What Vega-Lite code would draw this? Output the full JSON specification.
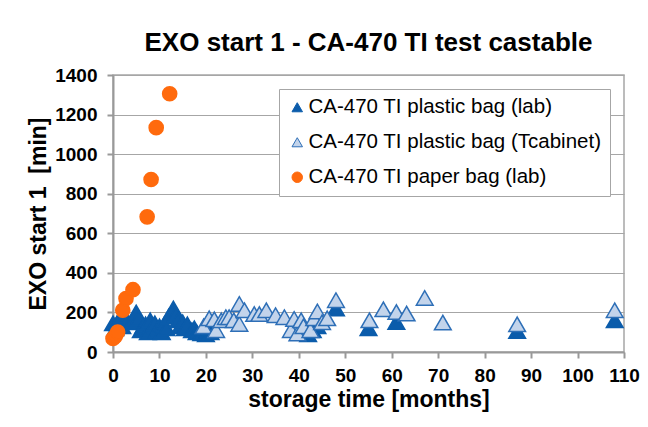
{
  "$schema": "https://vega.github.io/schema/vega-lite/v6.json",
  "width": 511,
  "height": 277,
  "autosize": "none",
  "padding": {"left": 113, "top": 75, "right": 24, "bottom": 75},
  "background": "white",
  "title": {
    "text": "EXO start 1 - CA-470 TI test castable",
    "font": "Liberation Sans",
    "fontSize": 26,
    "fontWeight": "bold",
    "color": "#000000",
    "anchor": "middle",
    "frame": "group",
    "offset": 10
  },
  "config": {
    "view": {"stroke": "#A6A6A6", "strokeWidth": 1.5},
    "axis": {
      "labelFont": "Liberation Sans",
      "titleFont": "Liberation Sans",
      "labelFontWeight": "bold",
      "titleFontWeight": "bold",
      "labelColor": "#000000",
      "titleColor": "#000000",
      "labelFontSize": 19,
      "titleFontSize": 23,
      "domainColor": "#999999",
      "domainWidth": 2,
      "tickColor": "#999999",
      "tickWidth": 2,
      "tickSize": 6,
      "gridColor": "#A6A6A6",
      "gridWidth": 1
    },
    "legend": {
      "orient": "top-right",
      "offset": 14,
      "labelFont": "Liberation Sans",
      "labelFontSize": 20.5,
      "labelColor": "#000000",
      "labelLimit": 400,
      "labelOffset": 1,
      "rowPadding": 14,
      "padding": 8,
      "symbolSize": 110,
      "symbolStrokeWidth": 1,
      "strokeColor": "#A6A6A6",
      "fillColor": "#FFFFFF"
    }
  },
  "data": {
    "values": [
      {"series": "CA-470 TI plastic bag (lab)", "month": 0, "value": 145},
      {"series": "CA-470 TI plastic bag (lab)", "month": 0.5, "value": 120},
      {"series": "CA-470 TI plastic bag (lab)", "month": 1, "value": 150},
      {"series": "CA-470 TI plastic bag (lab)", "month": 1.5, "value": 170},
      {"series": "CA-470 TI plastic bag (lab)", "month": 2, "value": 130},
      {"series": "CA-470 TI plastic bag (lab)", "month": 3, "value": 160},
      {"series": "CA-470 TI plastic bag (lab)", "month": 4, "value": 150},
      {"series": "CA-470 TI plastic bag (lab)", "month": 5, "value": 200},
      {"series": "CA-470 TI plastic bag (lab)", "month": 5.5, "value": 170},
      {"series": "CA-470 TI plastic bag (lab)", "month": 6, "value": 110},
      {"series": "CA-470 TI plastic bag (lab)", "month": 6.5, "value": 130},
      {"series": "CA-470 TI plastic bag (lab)", "month": 7, "value": 140},
      {"series": "CA-470 TI plastic bag (lab)", "month": 7.5, "value": 100},
      {"series": "CA-470 TI plastic bag (lab)", "month": 8, "value": 160},
      {"series": "CA-470 TI plastic bag (lab)", "month": 8.5, "value": 120},
      {"series": "CA-470 TI plastic bag (lab)", "month": 9, "value": 145},
      {"series": "CA-470 TI plastic bag (lab)", "month": 9.5, "value": 110},
      {"series": "CA-470 TI plastic bag (lab)", "month": 10, "value": 130},
      {"series": "CA-470 TI plastic bag (lab)", "month": 10.5, "value": 100},
      {"series": "CA-470 TI plastic bag (lab)", "month": 11, "value": 140},
      {"series": "CA-470 TI plastic bag (lab)", "month": 11.5, "value": 120},
      {"series": "CA-470 TI plastic bag (lab)", "month": 12, "value": 180},
      {"series": "CA-470 TI plastic bag (lab)", "month": 13, "value": 220},
      {"series": "CA-470 TI plastic bag (lab)", "month": 13.5, "value": 190},
      {"series": "CA-470 TI plastic bag (lab)", "month": 14, "value": 160},
      {"series": "CA-470 TI plastic bag (lab)", "month": 14.5, "value": 130},
      {"series": "CA-470 TI plastic bag (lab)", "month": 15, "value": 150},
      {"series": "CA-470 TI plastic bag (lab)", "month": 15.5, "value": 120},
      {"series": "CA-470 TI plastic bag (lab)", "month": 16, "value": 140},
      {"series": "CA-470 TI plastic bag (lab)", "month": 17, "value": 110},
      {"series": "CA-470 TI plastic bag (lab)", "month": 17.5, "value": 120},
      {"series": "CA-470 TI plastic bag (lab)", "month": 18, "value": 100},
      {"series": "CA-470 TI plastic bag (lab)", "month": 19, "value": 95},
      {"series": "CA-470 TI plastic bag (lab)", "month": 20, "value": 90},
      {"series": "CA-470 TI plastic bag (lab)", "month": 20.5, "value": 110},
      {"series": "CA-470 TI plastic bag (lab)", "month": 21, "value": 100},
      {"series": "CA-470 TI plastic bag (lab)", "month": 42, "value": 90},
      {"series": "CA-470 TI plastic bag (lab)", "month": 43, "value": 110},
      {"series": "CA-470 TI plastic bag (lab)", "month": 44, "value": 130},
      {"series": "CA-470 TI plastic bag (lab)", "month": 48, "value": 220},
      {"series": "CA-470 TI plastic bag (lab)", "month": 55, "value": 120},
      {"series": "CA-470 TI plastic bag (lab)", "month": 61, "value": 152},
      {"series": "CA-470 TI plastic bag (lab)", "month": 87, "value": 106},
      {"series": "CA-470 TI plastic bag (lab)", "month": 108, "value": 160},
      {"series": "CA-470 TI plastic bag (Tcabinet)", "month": 19.5, "value": 130},
      {"series": "CA-470 TI plastic bag (Tcabinet)", "month": 20.7, "value": 170},
      {"series": "CA-470 TI plastic bag (Tcabinet)", "month": 21.8, "value": 165},
      {"series": "CA-470 TI plastic bag (Tcabinet)", "month": 22.2, "value": 110},
      {"series": "CA-470 TI plastic bag (Tcabinet)", "month": 23.3, "value": 160},
      {"series": "CA-470 TI plastic bag (Tcabinet)", "month": 24.3, "value": 176},
      {"series": "CA-470 TI plastic bag (Tcabinet)", "month": 25, "value": 176},
      {"series": "CA-470 TI plastic bag (Tcabinet)", "month": 26, "value": 160},
      {"series": "CA-470 TI plastic bag (Tcabinet)", "month": 27.2, "value": 243},
      {"series": "CA-470 TI plastic bag (Tcabinet)", "month": 27.2, "value": 142},
      {"series": "CA-470 TI plastic bag (Tcabinet)", "month": 28.3, "value": 211},
      {"series": "CA-470 TI plastic bag (Tcabinet)", "month": 30.4, "value": 192},
      {"series": "CA-470 TI plastic bag (Tcabinet)", "month": 31.5, "value": 192},
      {"series": "CA-470 TI plastic bag (Tcabinet)", "month": 33, "value": 211},
      {"series": "CA-470 TI plastic bag (Tcabinet)", "month": 35, "value": 186},
      {"series": "CA-470 TI plastic bag (Tcabinet)", "month": 36.9, "value": 176},
      {"series": "CA-470 TI plastic bag (Tcabinet)", "month": 38.3, "value": 110},
      {"series": "CA-470 TI plastic bag (Tcabinet)", "month": 39, "value": 167},
      {"series": "CA-470 TI plastic bag (Tcabinet)", "month": 39.7, "value": 94},
      {"series": "CA-470 TI plastic bag (Tcabinet)", "month": 40.5, "value": 160},
      {"series": "CA-470 TI plastic bag (Tcabinet)", "month": 41, "value": 130},
      {"series": "CA-470 TI plastic bag (Tcabinet)", "month": 42.5, "value": 110},
      {"series": "CA-470 TI plastic bag (Tcabinet)", "month": 43.3, "value": 170},
      {"series": "CA-470 TI plastic bag (Tcabinet)", "month": 44, "value": 205},
      {"series": "CA-470 TI plastic bag (Tcabinet)", "month": 45, "value": 150},
      {"series": "CA-470 TI plastic bag (Tcabinet)", "month": 46.1, "value": 170},
      {"series": "CA-470 TI plastic bag (Tcabinet)", "month": 48, "value": 262},
      {"series": "CA-470 TI plastic bag (Tcabinet)", "month": 55.2, "value": 160},
      {"series": "CA-470 TI plastic bag (Tcabinet)", "month": 58.2, "value": 216},
      {"series": "CA-470 TI plastic bag (Tcabinet)", "month": 61, "value": 202},
      {"series": "CA-470 TI plastic bag (Tcabinet)", "month": 63.2, "value": 194},
      {"series": "CA-470 TI plastic bag (Tcabinet)", "month": 67.1, "value": 273},
      {"series": "CA-470 TI plastic bag (Tcabinet)", "month": 71, "value": 149},
      {"series": "CA-470 TI plastic bag (Tcabinet)", "month": 87, "value": 140},
      {"series": "CA-470 TI plastic bag (Tcabinet)", "month": 108, "value": 211},
      {"series": "CA-470 TI paper bag (lab)", "month": 0, "value": 68},
      {"series": "CA-470 TI paper bag (lab)", "month": 0.5, "value": 80},
      {"series": "CA-470 TI paper bag (lab)", "month": 1, "value": 101},
      {"series": "CA-470 TI paper bag (lab)", "month": 2.1, "value": 211},
      {"series": "CA-470 TI paper bag (lab)", "month": 2.8, "value": 270},
      {"series": "CA-470 TI paper bag (lab)", "month": 4.3, "value": 315},
      {"series": "CA-470 TI paper bag (lab)", "month": 7.35, "value": 683},
      {"series": "CA-470 TI paper bag (lab)", "month": 8.2, "value": 872},
      {"series": "CA-470 TI paper bag (lab)", "month": 9.3, "value": 1134},
      {"series": "CA-470 TI paper bag (lab)", "month": 12.2, "value": 1305}
    ]
  },
  "encoding": {
    "x": {
      "field": "month",
      "type": "quantitative",
      "scale": {"domain": [0, 110], "nice": false},
      "axis": {
        "title": "storage time [months]",
        "values": [0, 10, 20, 30, 40, 50, 60, 70, 80, 90, 100, 110],
        "format": "d",
        "grid": false,
        "labelPadding": 8,
        "titlePadding": 3,
        "labelFlush": false
      }
    },
    "y": {
      "field": "value",
      "type": "quantitative",
      "scale": {"domain": [0, 1400], "nice": false},
      "axis": {
        "title": "EXO start 1\u00a0 [min]",
        "values": [0, 200, 400, 600, 800, 1000, 1200, 1400],
        "format": "d",
        "grid": true,
        "labelPadding": 10,
        "titlePadding": 4
      }
    },
    "shape": {
      "field": "series",
      "type": "nominal",
      "scale": {
        "domain": ["CA-470 TI plastic bag (lab)", "CA-470 TI plastic bag (Tcabinet)", "CA-470 TI paper bag (lab)"],
        "range": ["triangle-up", "triangle-up", "circle"]
      },
      "legend": {"title": null}
    },
    "fill": {
      "field": "series",
      "type": "nominal",
      "scale": {
        "domain": ["CA-470 TI plastic bag (lab)", "CA-470 TI plastic bag (Tcabinet)", "CA-470 TI paper bag (lab)"],
        "range": ["#0B5CAB", "#C3D4EB", "#FF6A0D"]
      },
      "legend": {"title": null}
    },
    "stroke": {
      "field": "series",
      "type": "nominal",
      "scale": {
        "domain": ["CA-470 TI plastic bag (lab)", "CA-470 TI plastic bag (Tcabinet)", "CA-470 TI paper bag (lab)"],
        "range": ["#0B5CAB", "#2E6FB7", "#FF6A0D"]
      },
      "legend": {"title": null}
    }
  },
  "layer": [
    {
      "transform": [{"filter": "datum.series !== 'CA-470 TI paper bag (lab)'"}],
      "mark": {"type": "point", "filled": true, "opacity": 1, "strokeWidth": 1.5, "size": 280}
    },
    {
      "transform": [{"filter": "datum.series === 'CA-470 TI paper bag (lab)'"}],
      "mark": {"type": "point", "filled": true, "opacity": 1, "strokeWidth": 1.5, "size": 200}
    }
  ]
}
